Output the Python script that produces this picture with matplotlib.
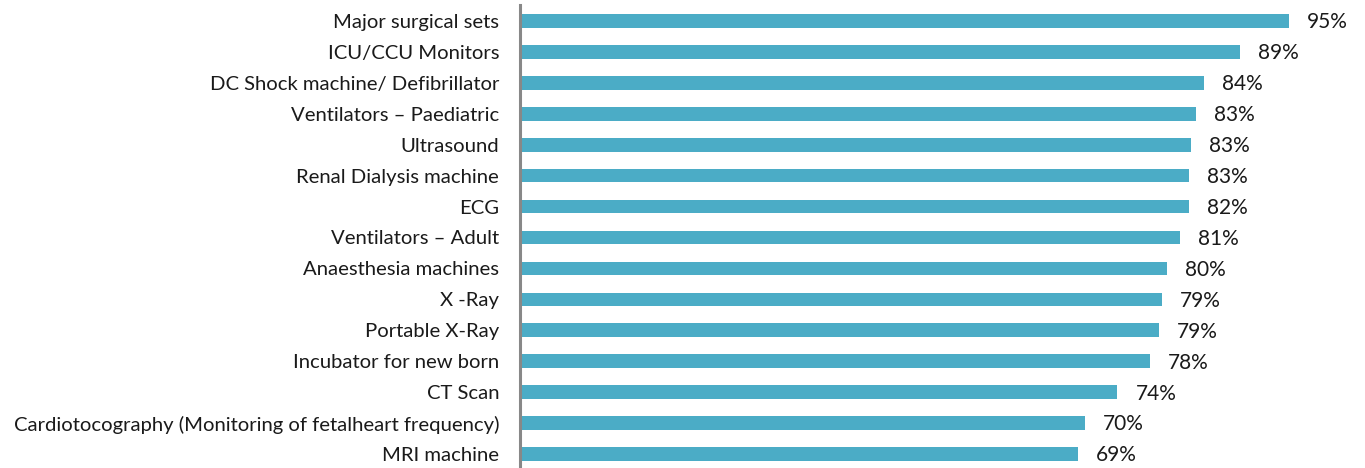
import matplotlib
matplotlib.use("Agg")
import matplotlib.pyplot as plt

plt.rcParams['font.family'] = ['Lato', 'DejaVu Sans']

items = ['Major surgical sets', 'ICU/CCU Monitors', 'DC Shock machine/ Defibrillator',
         'Ventilators \u2013 Paediatric', 'Ultrasound', 'Renal Dialysis machine', 'ECG',
         'Ventilators \u2013 Adult', 'Anaesthesia machines', 'X -Ray', 'Portable X-Ray',
         'Incubator for new born', 'CT Scan',
         'Cardiotocography (Monitoring of fetalheart frequency)', 'MRI machine']
values = [94.9, 88.8, 84.4, 83.4, 82.8, 82.5, 82.5, 81.4, 79.8, 79.2, 78.8, 77.7, 73.7, 69.7, 68.8]
shown = ['95%', '89%', '84%', '83%', '83%', '83%', '82%', '81%', '80%', '79%', '79%',
         '78%', '74%', '70%', '69%']

fig = plt.figure(figsize=(13.65, 4.68), dpi=100)
ax = fig.add_axes([520/1365, -1.5/468, 845/1365, 464/468])

y = list(range(len(items)))
ax.barh(y, values, height=0.44, color='#4bacc6')
for yi, v, s in zip(y, values, shown):
    ax.annotate(s, (v, yi), xytext=(13, -1), textcoords='offset points',
                va='center', ha='left', fontsize=15, color='#1a1a1a')

ax.set_ylim(len(items) - 0.5, -0.5)
ax.set_xlim(0, 845/8.105)
ax.set_yticks(y)
ax.set_yticklabels(items, fontsize=14.6, color='#1a1a1a')
ax.tick_params(axis='y', length=0, pad=15)
ax.set_xticks([])
for s in ['top', 'right', 'bottom']:
    ax.spines[s].set_visible(False)
ax.spines['left'].set_color('#888888')
ax.spines['left'].set_linewidth(2.2)

fig.savefig('out.png', dpi=100)
